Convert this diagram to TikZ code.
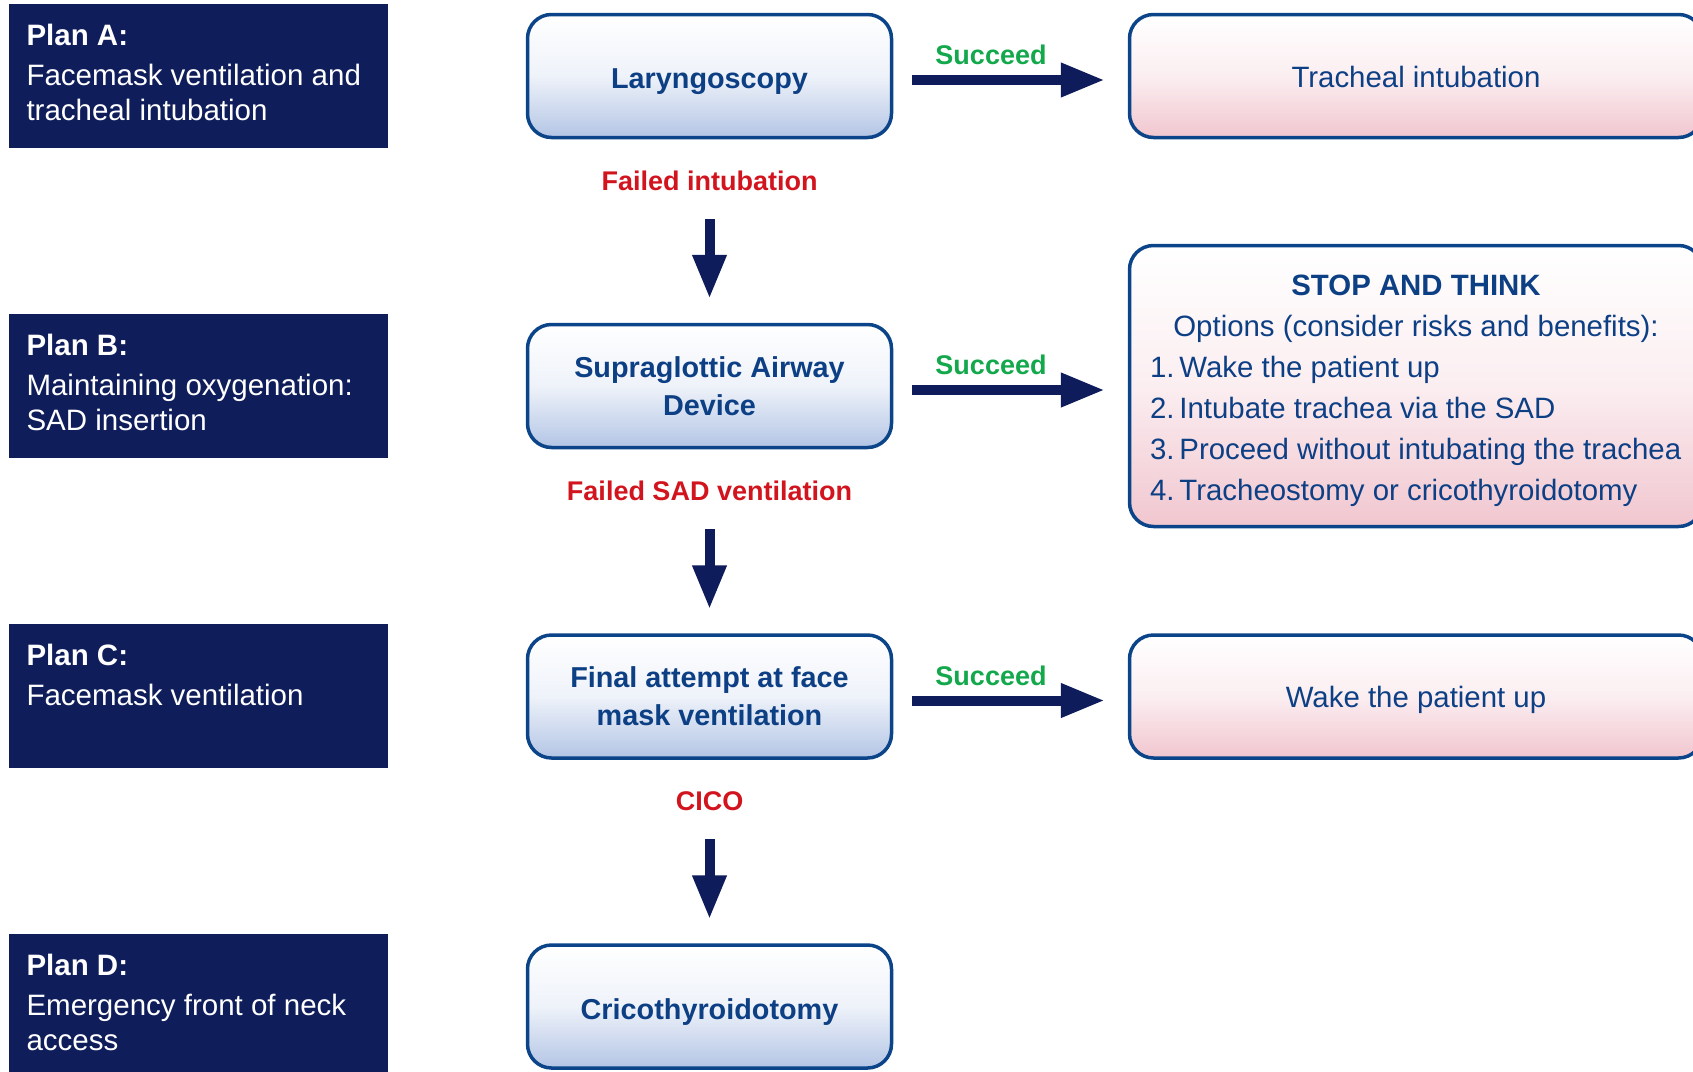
\documentclass[tikz,border=0pt]{standalone}
\usepackage{fontspec}
\setmainfont{Liberation Sans}
\usetikzlibrary{arrows.meta,positioning}
\definecolor{plannavy}{HTML}{0F1D5A}
\definecolor{arrownavy}{HTML}{0E1C5C}
\definecolor{boxedge}{HTML}{0B4488}
\definecolor{boxtext}{HTML}{0D3F85}
\definecolor{boxblue}{HTML}{B3C5E5}
\definecolor{boxpink}{HTML}{F1C6CF}
\definecolor{okgreen}{HTML}{12A84B}
\definecolor{failred}{HTML}{D2141E}

\begin{document}
\begin{tikzpicture}[x=1pt,y=-1pt,
	planbox/.style={fill=plannavy, minimum width=379pt, minimum height=144pt, inner sep=0pt},
	plantext/.style={anchor=north west, inner sep=0pt, text=white, align=left, font=\fontsize{29.5}{35}\selectfont},
	stepbox/.style={draw=boxedge, line width=3.5pt, rounded corners=24pt, minimum width=364pt, minimum height=123pt,
		top color=white, bottom color=boxblue, middle color=boxblue!22!white, text=boxtext, align=center,
		font=\bfseries\fontsize{28.8}{38}\selectfont},
	outbox/.style={draw=boxedge, line width=3.5pt, rounded corners=24pt, minimum width=573pt, minimum height=123pt,
		top color=white, bottom color=boxpink, middle color=boxpink!30!white, text=boxtext, align=center,
		font=\fontsize{29.4}{41}\selectfont},
	stoptext/.style={inner sep=0pt, text=boxtext, align=center, font=\fontsize{29.4}{41}\selectfont},
	oneline/.style={text height=#1, text depth=0pt},
	succ/.style={text=okgreen, font=\bfseries\fontsize{27}{32}\selectfont, inner sep=0pt},
	fail/.style={text=failred, font=\bfseries\fontsize{27}{32}\selectfont, inner sep=0pt},
	fatarrow/.style={draw=arrownavy, line width=10pt, -{Triangle[length=44pt,width=32pt]}}
	]
	\useasboundingbox (0,0) rectangle (1693,1071);
	\clip (0,0) rectangle (1693,1071);

	% plans on the left
	\node[planbox] (planA) at (198,76) {};
	\node[plantext] (planAtext) at ([xshift=18pt,yshift=-20pt]planA.north west)
		{\textbf{Plan A:}\\[5pt]Facemask ventilation and\\tracheal intubation};
	\node[planbox] (planB) at (198,386) {};
	\node[plantext] (planBtext) at ([xshift=18pt,yshift=-20pt]planB.north west)
		{\textbf{Plan B:}\\[5pt]Maintaining oxygenation:\\SAD insertion};
	\node[planbox] (planC) at (198,696) {};
	\node[plantext] (planCtext) at ([xshift=18pt,yshift=-20pt]planC.north west)
		{\textbf{Plan C:}\\[5pt]Facemask ventilation};
	\node[planbox] (planD) at (198,1006) {};
	\node[plantext] (planDtext) at ([xshift=18pt,yshift=-20pt]planD.north west)
		{\textbf{Plan D:}\\[5pt]Emergency front of neck\\access};

	% steps in the middle
	\node[stepbox, oneline=25pt] (lar) at (709.5,76) {Laryngoscopy};
	\node[stepbox] (sad) at (709.5,386) {Supraglottic Airway\\Device};
	\node[stepbox] (final) at (709.5,696.5) {Final attempt at face\\mask ventilation};
	\node[stepbox, oneline=25pt] (crico) at (709.5,1006.5) {Cricothyroidotomy};

	\node[fail] (fail1) at (709.5,181) {Failed intubation};
	\node[fail] (fail2) at (709.5,491) {Failed SAD ventilation};
	\node[fail] (fail3) at (709.5,801) {CICO};

	\draw[fatarrow, shorten <=38pt, shorten >=24pt] (fail1.center) -- (sad.north);
	\draw[fatarrow, shorten <=38pt, shorten >=24pt] (fail2.center) -- (final.north);
	\draw[fatarrow, shorten <=38pt, shorten >=24pt] (fail3.center) -- (crico.north);

	% outcomes on the right
	\node[outbox, oneline=22pt] (trach) at (1416,76) {Tracheal intubation};
	\node[outbox, minimum height=281pt] (stop) at (1416,386) {};
	\node[stoptext] (stoptxt) at ([yshift=-5pt]stop.center)
		{\textbf{STOP AND THINK}\\
		Options (consider risks and benefits):\\
		\makebox[532pt][l]{1.\,Wake the patient up}\\
		\makebox[532pt][l]{2.\,Intubate trachea via the SAD}\\
		\makebox[532pt][l]{3.\,Proceed without intubating the trachea}\\
		\makebox[532pt][l]{4.\,Tracheostomy or cricothyroidotomy}};
	\node[outbox, oneline=22pt] (wake) at (1416,696.5) {Wake the patient up};

	\node[succ] (suc1) at (991,55) {Succeed};
	\node[succ] (suc2) at (991,365) {Succeed};
	\node[succ] (suc3) at (991,676) {Succeed};

	\draw[fatarrow, shorten <=19pt, shorten >=23pt] ([yshift=-4pt]lar.east) -- ([yshift=-4pt]trach.west);
	\draw[fatarrow, shorten <=19pt, shorten >=23pt] ([yshift=-4pt]sad.east) -- ([yshift=-4pt]stop.west);
	\draw[fatarrow, shorten <=19pt, shorten >=23pt] ([yshift=-4pt]final.east) -- ([yshift=-4pt]wake.west);
\end{tikzpicture}
\end{document}
